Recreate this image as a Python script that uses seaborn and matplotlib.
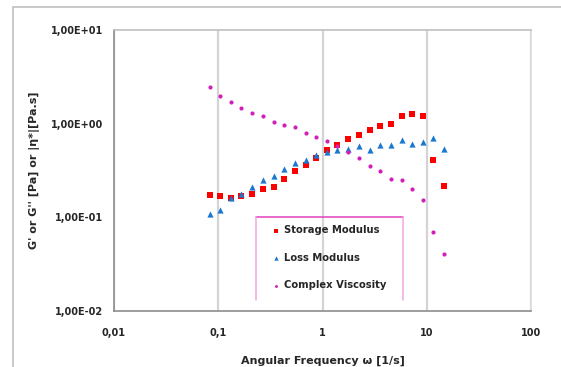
import matplotlib
matplotlib.use("Agg")
import matplotlib.pyplot as plt
import seaborn as sns
import pandas as pd
import numpy as np
from matplotlib.ticker import FixedLocator, FixedFormatter, LogLocator, NullFormatter
from matplotlib.patches import Rectangle
from matplotlib.lines import Line2D

freq = [0.0838, 0.105, 0.133, 0.167, 0.212, 0.269, 0.340, 0.431, 0.545, 0.691,
        0.868, 1.10, 1.39, 1.76, 2.23, 2.83, 3.58, 4.53, 5.74, 7.27, 9.21, 11.6, 14.6]
storage = [0.173, 0.170, 0.162, 0.170, 0.177, 0.201, 0.211, 0.257, 0.315, 0.359,
           0.434, 0.519, 0.587, 0.680, 0.763, 0.849, 0.944, 0.992, 1.22, 1.27, 1.22, 0.406, 0.216]
loss = [0.1085, 0.120, 0.160, 0.177, 0.211, 0.250, 0.279, 0.326, 0.380, 0.409,
        0.459, 0.494, 0.523, 0.536, 0.578, 0.523, 0.597, 0.593, 0.669, 0.612, 0.632, 0.697, 0.541]
viscosity = [2.46, 1.99, 1.72, 1.48, 1.30, 1.20, 1.04, 0.968, 0.921, 0.795,
             0.721, 0.648, 0.582, 0.503, 0.434, 0.356, 0.315, 0.257, 0.248, 0.199, 0.152, 0.0703, 0.0403]

series_names = ["Storage Modulus", "Loss Modulus", "Complex Viscosity"]
x_ticks = [0.01, 0.1, 1, 10, 100]
x_tick_labels = ["0,01", "0,1", "1", "10", "100"]
y_ticks = [0.01, 0.1, 1, 10]
y_tick_labels = ["1,00E-02", "1,00E-01", "1,00E+00", "1,00E+01"]

sns.set_theme(style="white")
plt.rcParams['font.family'] = ['DejaVu Sans']

TXT = "#262626"

fig = plt.figure(figsize=(5.61, 3.67), dpi=100)
ax = fig.add_axes([114/561, 1 - 311/367, (531 - 114)/561, (311 - 30)/367])

# figure frame
fig.patches.append(Rectangle((13/561, -0.1), 1.2, 1 - 7/367 + 0.1, transform=fig.transFigure,
                             fill=False, edgecolor="#c0c0c0", linewidth=1.2, zorder=-1))

df = pd.DataFrame({"freq": freq, "storage": storage, "loss": loss, "visc": viscosity})

sns.scatterplot(data=df, x="freq", y="storage", marker="s", color="#ff0000", s=24,
                linewidth=0, ax=ax, label=series_names[0], zorder=3)
sns.scatterplot(data=df, x="freq", y="loss", marker="^", color="#1a78d0", s=20,
                linewidth=0, ax=ax, label=series_names[1], zorder=3)
sns.scatterplot(data=df, x="freq", y="visc", marker="o", color="#d020b8", s=9,
                linewidth=0, ax=ax, label=series_names[2], zorder=3)

ax.set_xscale("log")
ax.set_yscale("log")
ax.set_xlim(0.01, 100)
ax.set_ylim(0.01, 10)

ax.xaxis.set_major_locator(FixedLocator(x_ticks))
ax.xaxis.set_major_formatter(FixedFormatter(x_tick_labels))
ax.yaxis.set_major_locator(FixedLocator(y_ticks))
ax.yaxis.set_major_formatter(FixedFormatter(y_tick_labels))
ax.xaxis.set_minor_locator(LogLocator(base=10, subs=np.arange(2, 10)))
ax.yaxis.set_minor_locator(LogLocator(base=10, subs=np.arange(2, 10)))
ax.xaxis.set_minor_formatter(NullFormatter())
ax.yaxis.set_minor_formatter(NullFormatter())

ax.tick_params(axis="both", which="major", labelsize=7, colors=TXT,
               length=4, width=0.8, color="#888888", direction="out")
ax.tick_params(axis="both", which="minor", length=2.5, width=0.6, color="#aaaaaa", direction="in")
ax.tick_params(axis="x", which="major", pad=8)
ax.tick_params(axis="y", which="major", pad=4)
for lab in ax.get_xticklabels() + ax.get_yticklabels():
    lab.set_fontweight("bold")

ax.grid(True, axis="x", which="major", color="#d4d4d4", linewidth=1.6)
ax.grid(False, axis="y")
ax.set_axisbelow(True)

ax.spines["left"].set_color("#8c8c8c")
ax.spines["bottom"].set_color("#8c8c8c")
ax.spines["top"].set_color("#c0c0c0")
ax.spines["right"].set_color("#dcdcdc")
for sp in ax.spines.values():
    sp.set_linewidth(1.2)

ax.set_xlabel("Angular Frequency ω [1/s]", fontsize=8, fontweight="bold", color=TXT, labelpad=13)
ax.set_ylabel("G' or G'' [Pa] or |η*|[Pa.s]", fontsize=8, fontweight="bold", color=TXT, labelpad=8)

# legend (open-bottom pink frame drawn separately)
leg = ax.legend(loc="upper left", bbox_to_anchor=(0.3405, 0.3356),
                fontsize=7.2, frameon=False, borderpad=0.85, labelspacing=1.75,
                handletextpad=-0.4, handlelength=2.4, borderaxespad=0, markerscale=0.7)
for t in leg.get_texts():
    t.set_fontweight("bold")
    t.set_color(TXT)

x0, x1, yt, yb = 0.3405, 0.693, 0.3356, 0.039
ax.add_line(Line2D([x0, x1], [yt, yt], transform=ax.transAxes, color="#e040c0", lw=1.1, zorder=4))
ax.add_line(Line2D([x0, x0], [yt, yb], transform=ax.transAxes, color="#f2a6e2", lw=1.1, zorder=4))
ax.add_line(Line2D([x1, x1], [yt, yb], transform=ax.transAxes, color="#f2a6e2", lw=1.1, zorder=4))

fig.savefig("out.png", dpi=100)
